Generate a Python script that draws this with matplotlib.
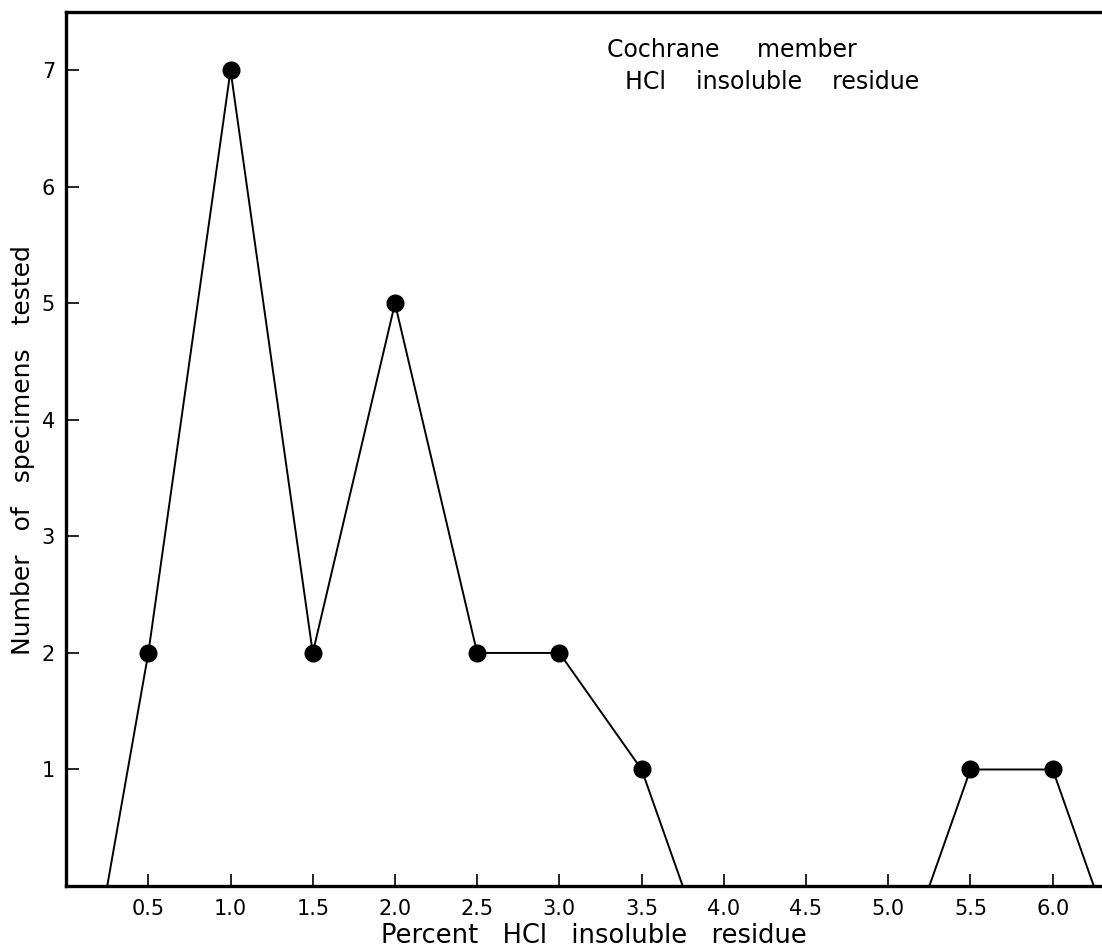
import numpy as np
import matplotlib
matplotlib.use("Agg")
import matplotlib.pyplot as plt

# ------------------ DATOS ------------------
residuo = [0.5, 1.0, 1.5, 2.0, 2.5, 3.0, 3.5, 4.0, 4.5, 5.0, 5.5, 6.0]
especimenes = [2, 7, 2, 5, 2, 2, 1, 0, 0, 0, 1, 1]
ticks_x = ["0.5", "1.0", "1.5", "2.0", "2.5", "3.0", "3.5", "4.0", "4.5", "5.0", "5.5", "6.0"]
ticks_y = [1, 2, 3, 4, 5, 6, 7]
medio_paso = 0.25

plt.rcParams["font.family"] = ["DejaVu Sans"]

fig = plt.figure(figsize=(11.02, 9.52), dpi=100)
ax = fig.add_axes([0.060, 0.0693, 0.940, 0.9181])

# tramos con datos distintos de cero -> poligono que baja a cero medio paso afuera
tramos = []
actual = []
for x, y in zip(residuo, especimenes):
    if y > 0:
        actual.append((x, y))
    elif actual:
        tramos.append(actual)
        actual = []
if actual:
    tramos.append(actual)

for t in tramos:
    xs = [t[0][0] - medio_paso] + [p[0] for p in t] + [t[-1][0] + medio_paso]
    ys = [0] + [p[1] for p in t] + [0]
    ax.plot(xs, ys, color="black", linewidth=1.4, zorder=2)
    ax.plot([p[0] for p in t], [p[1] for p in t], "o", color="black",
            markersize=12, zorder=3)

ax.set_xlim(0, 6.3)
ax.set_ylim(0, 7.5)
ax.set_xticks(residuo)
ax.set_xticklabels(ticks_x)
ax.set_yticks(ticks_y)
ax.tick_params(direction="in", length=9, width=1.2, labelsize=15, pad=9)
ax.tick_params(axis="y", pad=8)

for lado in ["left", "bottom", "top"]:
    ax.spines[lado].set_linewidth(2.4)
ax.spines["right"].set_visible(False)

ax.set_xlabel("Percent   HCl   insoluble   residue", fontsize=18.5)
ax.xaxis.set_label_coords(0.509, -0.042)
ax.set_ylabel("Number   of   specimens   tested", fontsize=18)
ax.yaxis.set_label_coords(-0.030, 0.499)

ax.text(0.643, 0.957, "Cochrane     member", transform=ax.transAxes,
        fontsize=17, ha="center", va="center")
ax.text(0.682, 0.920, "HCl    insoluble    residue", transform=ax.transAxes,
        fontsize=17, ha="center", va="center")

fig.savefig("out.png", dpi=100)
